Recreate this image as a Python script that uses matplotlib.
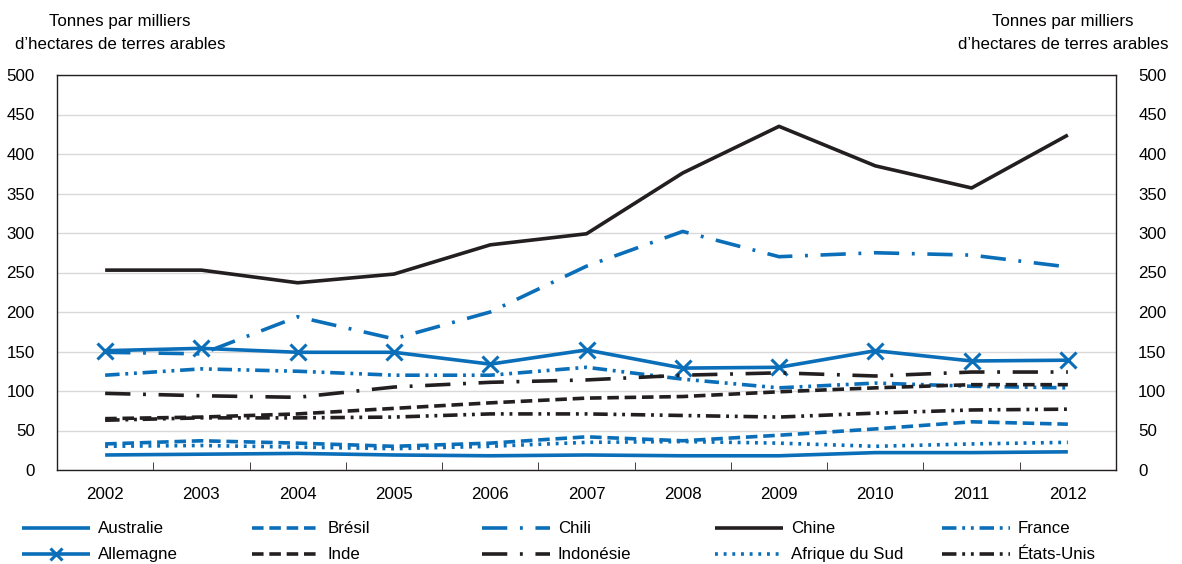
import matplotlib
matplotlib.use("Agg")
import matplotlib.pyplot as plt
from matplotlib import font_manager

years = [2002, 2003, 2004, 2005, 2006, 2007, 2008, 2009, 2010, 2011, 2012]

australie = [19, 20, 21, 19, 18, 19, 18, 18, 22, 22, 23]
bresil = [33, 37, 34, 30, 34, 42, 37, 44, 52, 61, 58]
chili = [149, 147, 194, 166, 200, 258, 302, 270, 275, 272, 257]
chine = [253, 253, 237, 248, 285, 299, 376, 435, 385, 357, 424]
france = [120, 128, 125, 120, 120, 130, 115, 104, 110, 106, 104]
allemagne = [151, 154, 149, 149, 134, 152, 129, 130, 151, 138, 139]
inde = [65, 67, 71, 78, 85, 91, 93, 99, 104, 108, 108]
indonesie = [97, 94, 92, 105, 111, 114, 120, 123, 119, 124, 124]
afrique_du_sud = [30, 31, 29, 27, 30, 35, 36, 34, 30, 33, 35]
etats_unis = [63, 66, 66, 67, 71, 71, 69, 67, 72, 76, 77]

yticks = [0, 50, 100, 150, 200, 250, 300, 350, 400, 450, 500]
ylabel = "Tonnes par milliers\nd\u2019hectares de terres arables"

BLUE = "#0A6EB8"
BLACK = "#231F20"

avail = {f.name for f in font_manager.fontManager.ttflist}
family = ["Liberation Sans Narrow", "DejaVu Sans"] if "Liberation Sans Narrow" in avail else ["Liberation Sans", "DejaVu Sans"]
plt.rcParams["font.family"] = family
FS = 12.2
plt.rcParams["font.size"] = FS

dash = (0, (3.2, 1.6))
dashdot = (0, (7, 3.5, 0.8, 3.5))
dashdotdot = (0, (4, 1.6, 0.8, 1.6, 0.8, 1.6))
dot = (0, (0.8, 1.6))
LW = 2.6

series = [
    ("Australie", australie, BLUE, "-", None),
    ("Brésil", bresil, BLUE, dash, None),
    ("Chili", chili, BLUE, dashdot, None),
    ("Chine", chine, BLACK, "-", None),
    ("France", france, BLUE, dashdotdot, None),
    ("Allemagne", allemagne, BLUE, "-", "x"),
    ("Inde", inde, BLACK, dash, None),
    ("Indonésie", indonesie, BLACK, dashdot, None),
    ("Afrique du Sud", afrique_du_sud, BLUE, dot, None),
    ("États-Unis", etats_unis, BLACK, dashdotdot, None),
]

fig = plt.figure(figsize=(11.82, 5.64), dpi=100)
ax = fig.add_axes([57 / 1182, 1 - 470 / 564, (1116 - 57) / 1182, (470 - 75) / 564])

handles = {}
for name, vals, color, ls, marker in series:
    ln, = ax.plot(years, vals, color=color, linestyle=ls, linewidth=LW,
                  marker=marker, markersize=11, markeredgewidth=2.2,
                  solid_capstyle="butt", dash_capstyle="butt", zorder=3)
    handles[name] = ln

ax.set_xlim(2001.5, 2012.5)
ax.set_ylim(0, 500)
ax.set_yticks(yticks)
ax.set_xticks(years)
ax.set_xticks([y + 0.5 for y in years[:-1]], minor=True)
ax.grid(axis="y", color="#D9D9D9", linewidth=1.0, zorder=0)
ax.set_axisbelow(True)
for s in ax.spines.values():
    s.set_color(BLACK)
    s.set_linewidth(1.0)
ax.tick_params(axis="x", which="major", length=0, pad=12, labelsize=FS)
ax.tick_params(axis="x", which="minor", length=6, direction="in", color=BLACK)
ax.tick_params(axis="y", which="both", length=0, pad=16, labelsize=FS,
               labelleft=True, labelright=True)
for lab in ax.get_yticklabels(which="both"):
    pass

fig.text(120 / 1182, 1 - 33 / 564, ylabel, ha="center", va="center",
         fontsize=FS, linespacing=1.65)
fig.text(1063 / 1182, 1 - 33 / 564, ylabel, ha="center", va="center",
         fontsize=FS, linespacing=1.65)

columns = [
    (["Australie", "Allemagne"], 14),
    (["Brésil", "Inde"], 244),
    (["Chili", "Indonésie"], 474),
    (["Chine", "Afrique du Sud"], 707),
    (["France", "États-Unis"], 934),
]
for names, x0 in columns:
    leg = fig.legend([handles[n] for n in names], names, loc="upper left",
                     bbox_to_anchor=(x0 / 1182, 1 - 513 / 564), frameon=False,
                     handlelength=4.0, handletextpad=0.45, labelspacing=0.65,
                     borderpad=0.0, fontsize=FS)
    for h in leg.legend_handles:
        h.set_markersize(9)

fig.savefig("out.png", dpi=100)
